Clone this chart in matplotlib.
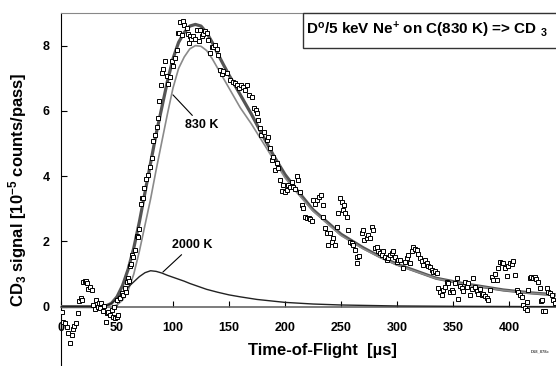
import matplotlib
matplotlib.use("Agg")
import matplotlib.pyplot as plt
from matplotlib.patches import Rectangle

plt.rcParams['font.family'] = ['Liberation Sans', 'DejaVu Sans']
plt.rcParams['font.weight'] = 'bold'
plt.rcParams['mathtext.fontset'] = 'custom'
plt.rcParams['mathtext.rm'] = 'Liberation Sans:bold'
plt.rcParams['mathtext.it'] = 'Liberation Sans:bold'
plt.rcParams['mathtext.bf'] = 'Liberation Sans:bold'
plt.rcParams['mathtext.default'] = 'rm'

# messpunkte (time-of-flight in us, signal in 1e-5 counts/pass)
meas_x = [0.6, 2, 3.6, 5.1, 6.5, 7.6, 9.4, 11, 11.8, 13.2, 14.8, 16, 17.6, 19, 20, 21.2, 22.2,
          23.5, 23.8, 25.9, 27.4, 28.8, 30.4, 31.2, 32.7, 34, 35, 35.7, 37.8, 38.5, 40.2, 40.8,
          42, 43.8, 45.3, 46.7, 47, 48.2, 49.7, 50.6,
          49.7, 52.7, 54.2, 55.5, 57, 57.6, 58.6, 59.5, 60.7, 61.6, 62.5, 63.1, 64.6, 66, 67.6,
          68.5, 69.6, 71.2, 72.6, 73.5, 74.4, 75.9, 77.7, 79.5, 81, 82.4, 83.9, 85.4, 86.9, 87.5,
          89, 89.9, 91.3, 92.9, 94.4, 95.8, 97.3, 98.8, 100.3, 101.8, 103.9, 104.7,
          105.4, 106, 107.7, 108.6, 110, 112.2, 113.5, 114.6, 115.2, 116.5, 118.1, 119.6, 121.2,
          123, 124, 125.6, 127, 128.6, 130, 131.5, 133, 134.5, 136, 137.5, 139, 140.5,
          142, 143.5, 145, 148, 151, 153.8, 155.5, 156.9, 159, 160.5, 162.8, 164.5, 166, 168,
          170.5, 172.3, 174, 174.7, 176, 177.7, 179, 181, 183.6, 185, 186.6, 188, 189.6, 191,
          192.6, 194, 195.5, 197, 198.5, 200, 201.5, 203, 204.5, 206, 207.4, 209, 210.4, 211.5,
          213.4,
          215, 216.3, 218, 219.4, 221, 222.3, 223.8, 225.3, 226.5, 228.3, 230, 231.9, 234.2,
          234.2, 236, 237.2, 238.7, 240.2, 241.7, 243, 244.6, 246.2, 247.6, 249, 250.6, 251.5,
          252.5, 253.6, 255, 256.5, 258, 259.6, 261, 262.5, 264, 264.5, 266.3, 268.5, 269.5,
          270.8, 273, 274.5, 276, 277.4, 278.8, 280.4, 281.9, 283.3, 284.8, 286.3, 287.8, 289.3,
          290.8, 292.3, 293.8, 295.2, 296.7, 298.2, 299.7, 301.2, 302.7, 305, 307.1, 308.6, 310,
          311.6, 313, 314.6, 316, 317.6, 319, 320.5, 322, 323.5, 325, 326.5, 328, 329.5, 331,
          332.4, 333.9, 335.4, 336.9, 338.4, 339.9, 341.4, 342.9, 344.4, 345.8, 347.3, 348.8,
          350.3, 351.8, 353.3, 354.7, 356.3, 357.8, 359.2, 360.7, 362.2, 363.7, 365.2, 366.6,
          368.1, 369.6, 371.1, 372.6, 374.1, 375.6, 377.1, 378.5, 380, 381.5, 383, 384.6, 386,
          387.5, 389, 390.4, 392, 393.5, 394.9, 396.4, 397.9, 399.4, 400.9, 402.4, 404, 405.4,
          406.9, 408.4, 409.8, 411.3, 412.8, 414.3, 415.8, 416.4, 417.2, 418.8, 420, 421.7, 423,
          424.5, 426, 427.7, 429, 429.2, 430.6, 432, 433.6, 435, 436.6, 438, 439.5, 441]
meas_y = [-0.15, -0.46, -0.51, -0.61, -0.82, -1.1, -0.87, -0.7, -0.6, -0.5, -0.21, 0.17, 0.26,
          0.2, 0.74, 0.78, 0.79, 0.72, 0.53, 0.61, 0.51, 0.05, -0.08, 0.2, 0.0, 0.1, -0.05, 0.12,
          -0.12, 0.02, -0.46, -0.2, -0.15, -0.26, -0.1, -0.31, 0.0, -0.36, -0.31, -0.25,
          0.2, 0.26, 0.41, 0.35, 0.56, 0.46, 0.77, 0.87, 0.8, 1.23, 1.3, 1.59, 1.53, 1.74, 2.15,
          2.13, 2.38, 3.14, 3.34, 3.32, 3.63, 3.91, 4.04, 4.29, 4.55, 5.08, 5.27, 5.5, 5.78, 6.31,
          6.8, 7.16, 7.28, 7.54, 7.06, 6.82, 7.03, 7.54, 7.39, 7.62, 7.87, 8.39,
          8.39, 8.71, 8.34, 8.74, 8.64, 8.54, 8.35, 8.08, 8.3, 8.2, 8.28, 8.2, 8.49,
          8.13, 8.49, 8.28, 8.35, 8.44, 8.4, 8.18, 7.77, 7.95, 7.97, 8.02, 7.9, 7.72,
          7.26, 7.12, 7.22, 7.16, 6.95, 6.9, 6.85, 6.8, 6.7, 6.78, 6.73, 6.65, 6.8, 6.49,
          6.44, 6.09, 6.04, 5.93, 5.73, 5.47, 5.27, 5.35, 5.11, 5.2, 4.86, 4.5, 4.6, 4.19,
          4.4, 4.24, 3.89, 3.53, 3.73, 3.5, 3.58, 3.73, 3.68, 3.83, 3.68, 3.6, 3.99, 3.88,
          3.5,
          3.12, 3.02, 2.75, 2.71, 2.72, 2.68, 2.61, 3.27, 3.15, 3.27, 3.35, 3.43, 3.12,
          2.76, 2.4, 2.25, 1.89, 2.25, 1.99, 2.1, 1.89, 2.45, 2.86, 3.32, 3.22, 2.97,
          3.1, 2.86, 2.76, 2.35, 1.99, 1.94, 1.9, 1.74, 1.35, 1.53, 1.56, 2.25, 2.35,
          2.04, 2.1, 2.2, 2.1, 2.45, 2.35, 1.79, 1.84, 1.69, 1.65, 1.59, 1.7, 1.53,
          1.43, 1.5, 1.59, 1.65, 1.69, 1.52, 1.38, 1.42, 1.43, 1.18, 1.38, 1.48, 1.59,
          1.33, 1.69, 1.84, 1.78, 1.74, 1.6, 1.48, 1.4, 1.28, 1.43, 1.35, 1.23, 1.2, 1.12,
          1.07, 1.1, 1.04, 0.56, 0.46, 0.36, 0.5, 0.61, 0.77, 0.72, 0.46, 0.5,
          0.46, 0.72, 0.87, 0.23, 0.62, 0.56, 0.48, 0.77, 0.6, 0.72, 0.36, 0.55,
          0.87, 0.6, 0.48, 0.4, 0.55, 0.36, 0.4, 0.32, 0.26, 0.2, 0.51, 0.92, 0.82,
          1.0, 0.82, 1.18, 1.38, 1.35, 1.33, 1.17, 0.95, 1.23, 1.33, 1.3, 1.41, 0.97,
          0.51, 0.45, 0.36, 0.29, 0.05, -0.05, -0.1, 0.15, 0.51, 0.87, 0.9, 0.87, 0.92,
          0.85, 0.77, 0.56, 0.18, 0.2, -0.13, -0.13, 0.56, 0.45, 0.41, 0.35, 0.2, 0.1]

# fit curves
fit_x = [0, 35, 40, 45, 50, 55, 60, 65, 70, 75, 80, 85, 90, 95, 100, 105, 110, 115, 120, 125,
         130, 135, 140, 145, 150, 160, 170, 180, 190, 200, 210, 225, 250, 270, 285, 300, 335,
         360, 395, 420, 442]
total_y = [0, 0, 0.02, 0.1, 0.3, 0.65, 1.15, 1.8, 2.6, 3.5, 4.4, 5.3, 6.1, 6.9, 7.6, 8.1, 8.4,
           8.6, 8.65, 8.6, 8.4, 8.1, 7.75, 7.42, 7.1, 6.5, 5.9, 5.25, 4.62, 4.05, 3.6, 2.97,
           2.22, 1.8, 1.53, 1.3, 0.87, 0.7, 0.51, 0.42, 0.36]
k830_y = [0, 0, 0, 0, 0.05, 0.2, 0.5, 1.0, 1.7, 2.5, 3.3, 4.2, 5.05, 5.9, 6.7, 7.3, 7.65, 7.9,
          8.0, 7.98, 7.85, 7.6, 7.3, 7.0, 6.7, 6.1, 5.6, 5.05, 4.5, 3.95, 3.52, 2.93, 2.18,
          1.77, 1.51, 1.28, 0.86, 0.69, 0.5, 0.41, 0.36]
k2000_x = [0, 35, 40, 45, 50, 55, 60, 65, 70, 75, 80, 85, 90, 95, 100, 105, 110, 115, 120, 130,
           140, 150, 160, 175, 200, 225, 250, 300, 350, 442]
k2000_y = [0, 0, 0.02, 0.1, 0.25, 0.42, 0.6, 0.76, 0.92, 1.04, 1.1, 1.08, 1.03, 0.96, 0.9,
           0.84, 0.78, 0.71, 0.65, 0.53, 0.44, 0.36, 0.3, 0.22, 0.13, 0.08, 0.05, 0.02, 0.01, 0]

fig = plt.figure(figsize=(5.56, 3.66), dpi=100)
ax = fig.add_axes([61/556, 0, 495/556, 353/366])

ax.plot(fit_x, total_y, color='#555555', lw=2.3, zorder=3)
ax.plot(fit_x, k830_y, color='#8a8a8a', lw=1.2, zorder=3)
ax.plot(k2000_x, k2000_y, color='#222222', lw=1.0, zorder=3)
ax.plot(meas_x, meas_y, 's', ms=3.2, mfc='white', mec='black', mew=0.7, zorder=4)

ax.set_xlim(0, 442)
ax.set_ylim(-1.82, 9.0)
ax.set_xticks(range(0, 401, 50))
ax.set_yticks([0, 2, 4, 6, 8])

ax.spines['bottom'].set_position(('data', 0))
ax.spines['bottom'].set_color('#666666')
ax.spines['bottom'].set_linewidth(1.2)
ax.spines['right'].set_visible(False)
ax.spines['top'].set_color('#888888')
ax.spines['left'].set_color('black')
ax.tick_params(axis='x', direction='in', length=4, pad=11, labelsize=9)
ax.tick_params(axis='y', direction='in', length=4, pad=8, labelsize=9)

fig.text(18/556, 1 - 190/366, r'CD$_3$ signal [10$^{-5}$ counts/pass]', rotation=90,
         ha='center', va='center', fontsize=12, fontweight='bold')
fig.text(322/556, 1 - 351/366, r'Time-of-Flight  [µs]', ha='center', va='center',
         fontsize=12, fontweight='bold')

ax.add_patch(Rectangle((0.489, 0.902), 0.52, 0.098, transform=ax.transAxes,
                       facecolor='white', edgecolor='#333333', lw=1, clip_on=False, zorder=5))
ax.text(0.495, 0.951, r'D$^{\mathrm{o}}$/5 keV Ne$^{+}$ on C(830 K) => CD$\ _{3}$',
        transform=ax.transAxes, ha='left', va='center', fontsize=11, fontweight='bold', zorder=6)

ax.annotate('830 K', xy=(100, 6.49), xytext=(125.5, 5.56), ha='center', va='center',
            fontsize=9, fontweight='bold',
            arrowprops=dict(arrowstyle='-', color='black', lw=0.8, shrinkA=1, shrinkB=0))
ax.annotate('2000 K', xy=(91, 1.06), xytext=(117, 1.89), ha='center', va='center',
            fontsize=9, fontweight='bold',
            arrowprops=dict(arrowstyle='-', color='black', lw=0.8, shrinkA=1, shrinkB=0))

fig.text(540/556, 1 - 351/366, 'D18_878c', ha='center', va='center', fontsize=3,
         color='#444444')

fig.savefig('out.png', dpi=100)
